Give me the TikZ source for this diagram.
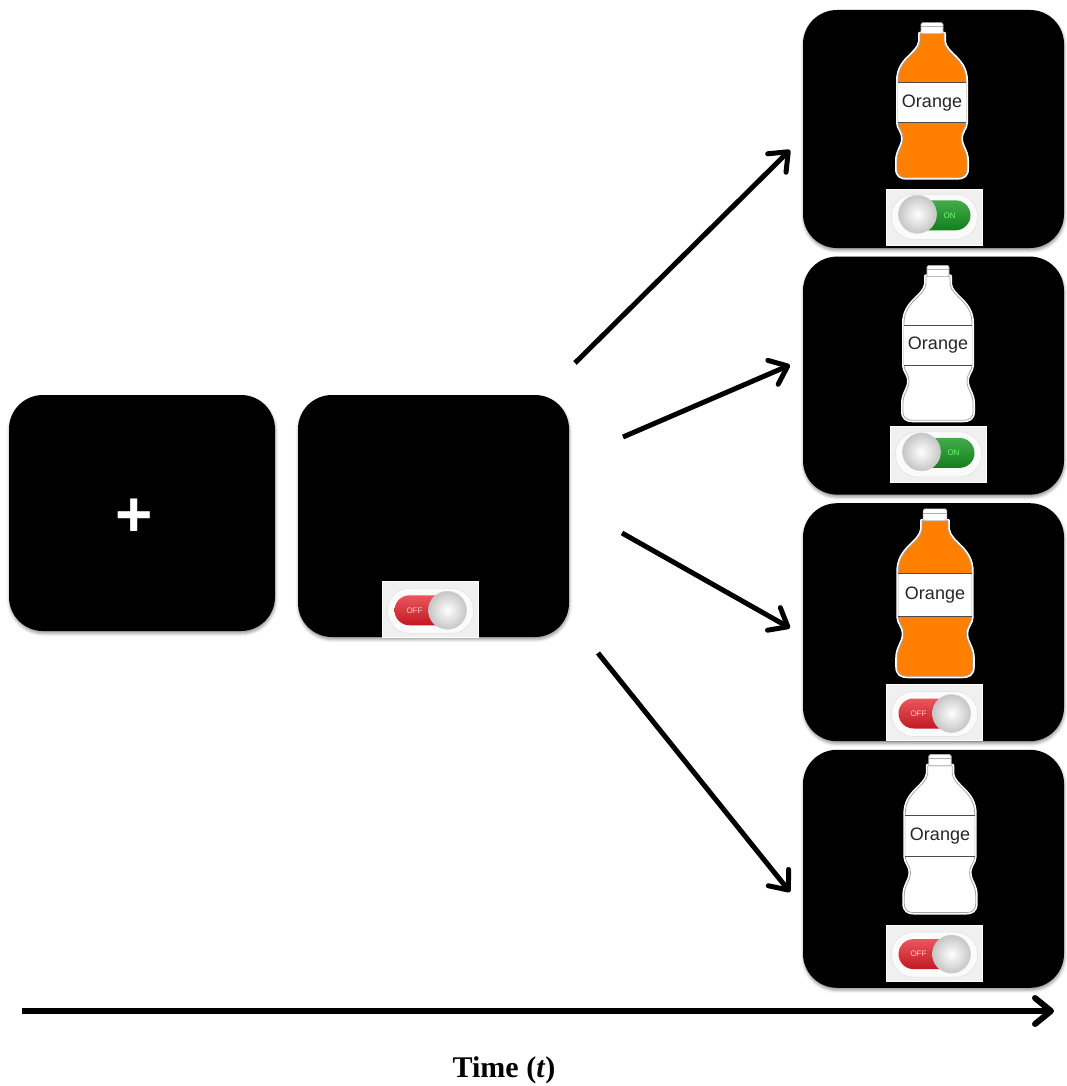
\documentclass[tikz,border=0pt]{standalone}
\usepackage{fontspec}
\usepackage{tikz}
\usetikzlibrary{arrows.meta,positioning,shadows.blur}
\newfontfamily\labelfont{Liberation Sans}
\newfontfamily\timefont{Liberation Serif}

\definecolor{drinkorange}{RGB}{255,127,0}
\definecolor{switchred}{RGB}{228,30,40}
\definecolor{switchgreen}{RGB}{22,150,32}

% bottle silhouette, origin at the top of the cap, y pointing down
\newcommand{\bottleoutline}{(-12,11) -- (12,11) -- (12,19)
  .. controls (14,32) and (34,36) .. (34,58) -- (34,100)
  .. controls (34,106) and (29,108) .. (29,116)
  .. controls (29,124) and (35,128) .. (35,138) -- (35,146)
  .. controls (35,153) and (31,155) .. (25,155) -- (-25,155)
  .. controls (-31,155) and (-35,153) .. (-35,146) -- (-35,138)
  .. controls (-35,128) and (-29,124) .. (-29,116)
  .. controls (-29,108) and (-34,106) .. (-34,100) -- (-34,58)
  .. controls (-34,36) and (-14,32) .. (-12,19) -- cycle}

\tikzset{
  >=Stealth,
  every picture/.append style={line width=0.6pt},
}
\tikzset{
  screen/.style={rectangle, fill=black, rounded corners=34pt, inner sep=0pt,
                 blur shadow={shadow xshift=0.5pt, shadow yshift=-2.5pt,
                              shadow blur radius=3pt, shadow opacity=40}},
  flow/.style={-{Straight Barb[length=16pt,width=26pt,round]}, line width=5pt},
  drinklabel/.style={font=\labelfont\fontsize{18}{18}\selectfont, text=black!85, inner sep=0pt},
  switchlabel/.style={font=\labelfont\fontsize{8}{8}\selectfont, inner sep=0pt},
  pics/bottle/.style={code={
    \path[draw=white, line width=4pt, line join=round] \bottleoutline;
    \path[fill=#1, draw=gray!70, line width=0.8pt] \bottleoutline;
    \begin{scope}
      \clip \bottleoutline;
      \fill[white] (-40,60) rectangle (40,100);
    \end{scope}
    \draw[gray!60!black, line width=1pt] (-34,60) -- (34,60) (-34,100) -- (34,100);
    \path[fill=white, draw=gray!60, rounded corners=1.5pt] (-11,0) rectangle (11,11);
    \draw[gray!60] (-11,4) -- (11,4);
    \node[drinklabel] (-word) at (0,80) {Orange};
  }},
  pics/offswitch/.style={code={
    \path[fill=gray!12, draw=white, line width=1pt] (-48,-28) rectangle (48,28);
    \path[fill=gray!3, draw=gray!22, rounded corners=22pt] (-43,-21) rectangle (43,24);
    \path[top color=switchred!75!white, bottom color=switchred!85!black, rounded corners=15pt]
      (-36,-14) rectangle (30,16);
    \node[switchlabel, text=white!80!red] (-word) at (-16,1) {OFF};
    \path[inner color=white, outer color=gray!45, draw=gray!35] (17,1) circle (19pt);
  }},
  pics/onswitch/.style={code={
    \path[fill=gray!12, draw=white, line width=1pt] (-48,-28) rectangle (48,28);
    \path[fill=gray!3, draw=gray!22, rounded corners=22pt] (-43,-23) rectangle (43,22);
    \path[top color=switchgreen!80!white, bottom color=switchgreen!85!black, rounded corners=15pt]
      (-30,-17) rectangle (36,13);
    \node[switchlabel, text=green!60!white] (-word) at (15,-2) {ON};
    \path[inner color=white, outer color=gray!45, draw=gray!35] (-17,-3) circle (19pt);
  }},
}

\begin{document}
\begin{tikzpicture}[x=1pt, y=-1pt]
\useasboundingbox (0,0) rectangle (1067,1086);

% fixation and cue screens
\node[screen, minimum width=266pt, minimum height=236pt] (fixscr) at (142,513) {};
\node[text=white, font=\labelfont\bfseries\fontsize{64}{64}\selectfont, inner sep=0pt] (cross) at (134,518) {+};
\node[screen, minimum width=271pt, minimum height=242pt] (cuescr) at (433.5,516) {};
\pic (cuesw) at ([xshift=-3pt,yshift=28pt]cuescr.south) {offswitch};

% outcome screens
\node[screen, minimum width=261pt, minimum height=238pt] (outA) at (933.5,129) {};
\node[screen, minimum width=261pt, minimum height=238pt, below=8pt of outA] (outB) {};
\node[screen, minimum width=261pt, minimum height=238pt, below=8pt of outB] (outC) {};
\node[screen, minimum width=261pt, minimum height=238pt, below=8pt of outC] (outD) {};

\pic (btA) at ([xshift=-1.5pt,yshift=-13pt]outA.north) {bottle=drinkorange};
\pic (btB) at ([xshift=4.5pt,yshift=-9pt]outB.north) {bottle=white};
\pic[scale=1.08] (btC) at ([xshift=1.5pt,yshift=-6pt]outC.north) {bottle=drinkorange};
\pic[scale=1.02] (btD) at ([xshift=6.5pt,yshift=-5pt]outD.north) {bottle=white};

\pic (swA) at ([xshift=1pt,yshift=31pt]outA.south) {onswitch};
\pic (swB) at ([xshift=5pt,yshift=40pt]outB.south) {onswitch};
\pic (swC) at ([xshift=1pt,yshift=29pt]outC.south) {offswitch};
\pic (swD) at ([xshift=1pt,yshift=35pt]outD.south) {offswitch};

% branching arrows
\coordinate (s1) at (575,363);
\coordinate (e1) at (790,150);
\coordinate (s2) at (623,437);
\coordinate (e2) at (790,365);
\coordinate (s3) at (622,533);
\coordinate (e3) at (790,628);
\coordinate (s4) at (598,653);
\coordinate (e4) at (790,892);
\draw[flow] (s1) -- (e1);
\draw[flow] (s2) -- (e2);
\draw[flow] (s3) -- (e3);
\draw[flow] (s4) -- (e4);

% time axis
\coordinate (t0) at (22,1011);
\coordinate (t1) at (1054,1011);
\draw[flow, line width=6pt] (t0) -- (t1);
\node[font=\timefont\bfseries\fontsize{30}{30}\selectfont] (tlabel) at (504,1070) {Time (\textit{t})};

\end{tikzpicture}
\end{document}
